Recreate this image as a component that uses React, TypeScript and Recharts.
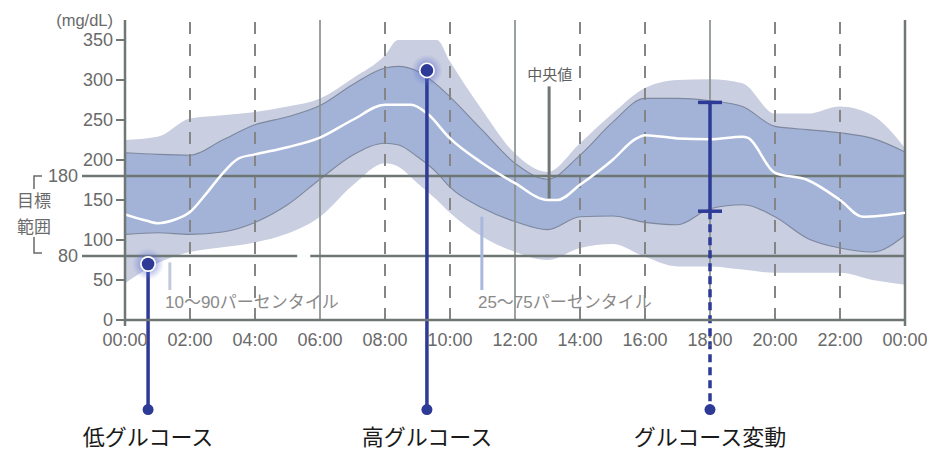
import React from 'react';
import { ComposedChart, Area, Line, XAxis, YAxis, ReferenceLine, ReferenceDot } from 'recharts';

// ---------- data ----------
const BAND_HOURS = [0, 1, 2, 3, 4, 5, 6, 7, 8, 8.4, 9, 9.6, 10, 11, 12, 13, 14, 15, 16, 17, 18, 19, 20, 21, 22, 23, 24];
const P10 = [46, 71, 85, 91, 97, 108, 129, 168, 196, 192, 171, 150, 134, 104, 85, 75, 90, 95, 79, 67, 67, 63, 59, 59, 59, 50, 44];
const P25 = [107, 109, 107, 110, 122, 144, 176, 206, 221, 219, 204, 184, 166, 140, 123, 113, 129, 130, 122, 119, 139, 144, 129, 102, 90, 85, 106];
const P75 = [209, 207, 206, 225, 244, 254, 268, 294, 315, 317, 311, 294, 279, 237, 196, 176, 206, 247, 277, 277, 274, 267, 242, 238, 234, 227, 210];
const P90 = [225, 229, 252, 256, 260, 267, 277, 302, 331, 350, 350, 350, 323, 262, 208, 185, 221, 258, 290, 300, 301, 296, 258, 258, 267, 256, 215];

const MED_HOURS = [0, 0.67, 1, 1.5, 2, 2.5, 3, 3.5, 4, 5, 6, 7, 8, 8.8, 9.3, 10, 11, 12, 13, 13.3, 14, 15, 15.7, 16, 17, 18, 19, 19.15, 20, 21, 22, 22.7, 24];
const MEDIAN = [132, 124, 121, 125, 135, 158, 183, 202, 207, 216, 228, 250, 269, 269, 258, 227, 196, 171, 150, 150, 169, 200, 226, 231, 227, 226, 229, 228, 184, 175, 150, 129, 134];

const Y_TICKS = [0, 50, 80, 100, 150, 180, 200, 250, 300, 350];
const TARGET_LOW = 80;
const TARGET_HIGH = 180;
const X_TICKS = [0, 2, 4, 6, 8, 10, 12, 14, 16, 18, 20, 22, 24];
const DASHED_HOURS = [2, 4, 8, 10, 14, 16, 20, 22];
const SOLID_HOURS = [6, 12, 18];

const UNIT_LABEL = '(mg/dL)';
const TARGET_LABEL_TOP = '目標';
const TARGET_LABEL_BOTTOM = '範囲';

// annotations (data coordinates)
const LOW_EVENT = { h: 0.71, v: 70, label: '低グルコース' };
const HIGH_EVENT = { h: 9.29, v: 312, label: '高グルコース' };
const VARIATION = { h: 18, low: 136, high: 272, label: 'グルコース変動', capHalf: 0.37 };
const CALLOUT_DOT_V = -112;
const CALLOUT_LABEL_V = -146;
const P1090_NOTE = { h: 1.23, v: 22.5, text: '10～90パーセンタイル', pointerH: 1.38, pointerTop: 72, pointerBottom: 37.5 };
const P2575_NOTE = { h: 10.86, v: 22.5, text: '25～75パーセンタイル', pointerH: 10.98, pointerTop: 129, pointerBottom: 37.5 };
const MEDIAN_NOTE = { h: 13.07, v: 306, text: '中央値', pointerH: 13.05, pointerTop: 292, pointerBottom: 152 };
const LOW_LINE_GAP = [5.3, 5.7];

const bandRows = BAND_HOURS.map((h, i) => ({ h, outer: [P10[i], P90[i]], inner: [P25[i], P75[i]] }));
const medRows = MED_HOURS.map((h, i) => ({ h, median: MEDIAN[i] }));

// ---------- styles ----------
const FONT = "'Liberation Sans', 'Noto Sans CJK JP', sans-serif";
const JP = "'Noto Sans CJK JP', sans-serif";
const TICK_TEXT = '#6a6a6a';
const AXIS = '#6e7773';
const GRID_SOLID = '#8a918d';
const GRID_DASH = '#858585';
const OUTER_FILL = '#c9cee0';
const INNER_FILL = '#a3b3d7';
const INNER_EDGE = '#7d889f';
const BLUE = '#2d3a96';

const fmtHour = (h: number) => `${String(h % 24).padStart(2, '0')}:00`;

const YTick = (props: any) => {
  const { x, y, payload } = props;
  const v = payload.value;
  if (v === TARGET_HIGH || v === TARGET_LOW) {
    const top = v === TARGET_HIGH;
    return (
      <g>
        <line x1={x - 43} y1={y} x2={x} y2={y} stroke={AXIS} strokeWidth={2.5} />
        <text x={x - 47} y={y} dy="0.35em" textAnchor="end" fontSize={18} fill={TICK_TEXT} fontFamily={FONT}>{v}</text>
        {top ? (
          <path d={`M${x - 91},${y + 13} L${x - 91},${y} L${x - 83},${y}`} fill="none" stroke={TICK_TEXT} strokeWidth={1.5} />
        ) : (
          <path d={`M${x - 91},${y - 19} L${x - 91},${y - 3} L${x - 83},${y - 3}`} fill="none" stroke={TICK_TEXT} strokeWidth={1.5} />
        )}
        <text x={x - 91} y={top ? y + 25 : y - 29} dy="0.35em" textAnchor="middle" fontSize={17} fill={TICK_TEXT} fontFamily={JP}>
          {top ? TARGET_LABEL_TOP : TARGET_LABEL_BOTTOM}
        </text>
      </g>
    );
  }
  return (
    <g>
      <line x1={x - 9} y1={y} x2={x} y2={y} stroke={AXIS} strokeWidth={2} />
      <text x={x - 12} y={y} dy="0.35em" textAnchor="end" fontSize={18} fill={TICK_TEXT} fontFamily={FONT}>{v}</text>
      {v === 350 && (
        <text x={x - 12} y={y - 20} dy="0.35em" textAnchor="end" fontSize={16.5} fill={TICK_TEXT} fontFamily={FONT}>{UNIT_LABEL}</text>
      )}
    </g>
  );
};

const XTick = (props: any) => {
  const { x, y, payload } = props;
  const h = payload.value;
  return (
    <g>
      {(h === 0 || h === 24) && <line x1={x} y1={y} x2={x} y2={y + 6} stroke={AXIS} strokeWidth={2.5} />}
      <text x={x} y={y + 20} dy="0.35em" textAnchor="middle" fontSize={18} fill={TICK_TEXT} fontFamily={FONT}>{fmtHour(h)}</text>
    </g>
  );
};

const GlowDot = (props: any) => {
  const { cx, cy } = props;
  const id = `glow-${Math.round(cx)}-${Math.round(cy)}`;
  return (
    <g>
      <defs>
        <radialGradient id={id}>
          <stop offset="30%" stopColor="#4a5cc8" stopOpacity={0.55} />
          <stop offset="100%" stopColor="#6f80d8" stopOpacity={0} />
        </radialGradient>
      </defs>
      <circle cx={cx} cy={cy} r={16} fill={`url(#${id})`} />
      <circle cx={cx} cy={cy} r={8} fill="#ffffff" />
      <circle cx={cx} cy={cy} r={6.3} fill={BLUE} />
    </g>
  );
};

const SmallDot = (props: any) => <circle cx={props.cx} cy={props.cy} r={5.5} fill={BLUE} />;

const makeText = (text: string, opts: { anchor: string; size: number; fill: string; family: string }) => (props: any) => (
  <text x={props.cx} y={props.cy} dy="0.35em" textAnchor={opts.anchor} fontSize={opts.size} fill={opts.fill} fontFamily={opts.family}>
    {text}
  </text>
);

export default function App() {
  return (
    <div style={{ position: 'absolute', left: 0, top: 0, background: '#fff' }}>
      <ComposedChart width={927} height={451} data={bandRows} margin={{ top: 20, right: 22, bottom: 101, left: 65 }}>
        <XAxis
          dataKey="h"
          type="number"
          domain={[0, 24]}
          ticks={X_TICKS}
          interval={0}
          tick={<XTick />}
          tickLine={false}
          tickSize={0}
          tickMargin={0}
          height={30}
          axisLine={{ stroke: AXIS, strokeWidth: 2.5 }}
          allowDataOverflow
        />
        <YAxis
          type="number"
          domain={[0, 375]}
          ticks={Y_TICKS}
          interval={0}
          tick={<YTick />}
          tickLine={false}
          tickSize={0}
          tickMargin={0}
          width={60}
          axisLine={{ stroke: AXIS, strokeWidth: 2.5 }}
          allowDataOverflow
        />
        <Area dataKey="outer" type="monotoneX" fill={OUTER_FILL} fillOpacity={1} stroke="none" isAnimationActive={false} />
        <Area dataKey="inner" type="monotoneX" fill={INNER_FILL} fillOpacity={1} stroke={INNER_EDGE} strokeWidth={1.1} isAnimationActive={false} />

        {DASHED_HOURS.map((h) => (
          <ReferenceLine key={`d${h}`} x={h} stroke={GRID_DASH} strokeWidth={2} strokeDasharray="12 10" />
        ))}
        {SOLID_HOURS.map((h) => (
          <ReferenceLine key={`s${h}`} x={h} stroke={GRID_SOLID} strokeWidth={1.7} />
        ))}
        <ReferenceLine x={24} stroke={AXIS} strokeWidth={2.5} />
        <ReferenceLine y={TARGET_HIGH} stroke={AXIS} strokeWidth={2.5} />
        <ReferenceLine segment={[{ x: 0, y: TARGET_LOW }, { x: LOW_LINE_GAP[0], y: TARGET_LOW }]} stroke={AXIS} strokeWidth={2.5} ifOverflow="visible" />
        <ReferenceLine segment={[{ x: LOW_LINE_GAP[1], y: TARGET_LOW }, { x: 24, y: TARGET_LOW }]} stroke={AXIS} strokeWidth={2.5} ifOverflow="visible" />

        <Line data={medRows} dataKey="median" type="monotoneX" stroke="#ffffff" strokeWidth={2.5} dot={false} isAnimationActive={false} />

        {/* percentile / median pointers */}
        <ReferenceLine segment={[{ x: P1090_NOTE.pointerH, y: P1090_NOTE.pointerTop }, { x: P1090_NOTE.pointerH, y: P1090_NOTE.pointerBottom }]} stroke="#c2c9db" strokeWidth={3} ifOverflow="visible" />
        <ReferenceLine segment={[{ x: P2575_NOTE.pointerH, y: P2575_NOTE.pointerTop }, { x: P2575_NOTE.pointerH, y: P2575_NOTE.pointerBottom }]} stroke="#a9b8dc" strokeWidth={3} ifOverflow="visible" />
        <ReferenceLine segment={[{ x: MEDIAN_NOTE.pointerH, y: MEDIAN_NOTE.pointerTop }, { x: MEDIAN_NOTE.pointerH, y: MEDIAN_NOTE.pointerBottom }]} stroke={AXIS} strokeWidth={3} ifOverflow="visible" />
        <ReferenceDot x={P1090_NOTE.h} y={P1090_NOTE.v} ifOverflow="visible" shape={makeText(P1090_NOTE.text, { anchor: 'start', size: 17, fill: '#8a8a8a', family: FONT })} />
        <ReferenceDot x={P2575_NOTE.h} y={P2575_NOTE.v} ifOverflow="visible" shape={makeText(P2575_NOTE.text, { anchor: 'start', size: 17, fill: '#8a8a8a', family: FONT })} />
        <ReferenceDot x={MEDIAN_NOTE.h} y={MEDIAN_NOTE.v} ifOverflow="visible" shape={makeText(MEDIAN_NOTE.text, { anchor: 'middle', size: 15, fill: '#5e5e5e', family: JP })} />

        {/* low / high glucose call-outs */}
        <ReferenceLine segment={[{ x: LOW_EVENT.h, y: LOW_EVENT.v }, { x: LOW_EVENT.h, y: CALLOUT_DOT_V }]} stroke={BLUE} strokeWidth={3.5} ifOverflow="visible" />
        <ReferenceLine segment={[{ x: HIGH_EVENT.h, y: HIGH_EVENT.v }, { x: HIGH_EVENT.h, y: CALLOUT_DOT_V }]} stroke={BLUE} strokeWidth={3.5} ifOverflow="visible" />
        {/* variability bar */}
        <ReferenceLine segment={[{ x: VARIATION.h, y: VARIATION.low }, { x: VARIATION.h, y: VARIATION.high }]} stroke={BLUE} strokeWidth={3.5} ifOverflow="visible" />
        <ReferenceLine segment={[{ x: VARIATION.h - VARIATION.capHalf, y: VARIATION.high }, { x: VARIATION.h + VARIATION.capHalf, y: VARIATION.high }]} stroke={BLUE} strokeWidth={3.5} ifOverflow="visible" />
        <ReferenceLine segment={[{ x: VARIATION.h - VARIATION.capHalf, y: VARIATION.low }, { x: VARIATION.h + VARIATION.capHalf, y: VARIATION.low }]} stroke={BLUE} strokeWidth={3.5} ifOverflow="visible" />
        <ReferenceLine segment={[{ x: VARIATION.h, y: VARIATION.low }, { x: VARIATION.h, y: CALLOUT_DOT_V }]} stroke={BLUE} strokeWidth={3.5} strokeDasharray="8 5" ifOverflow="visible" />

        <ReferenceDot x={LOW_EVENT.h} y={LOW_EVENT.v} ifOverflow="visible" shape={<GlowDot />} />
        <ReferenceDot x={HIGH_EVENT.h} y={HIGH_EVENT.v} ifOverflow="visible" shape={<GlowDot />} />
        {[LOW_EVENT.h, HIGH_EVENT.h, VARIATION.h].map((h) => (
          <ReferenceDot key={`cd${h}`} x={h} y={CALLOUT_DOT_V} ifOverflow="visible" shape={<SmallDot />} />
        ))}
        {[LOW_EVENT, HIGH_EVENT, VARIATION].map((e) => (
          <ReferenceDot key={`cl${e.h}`} x={e.h} y={CALLOUT_LABEL_V} ifOverflow="visible" shape={makeText(e.label, { anchor: 'middle', size: 22, fill: '#1a1a1a', family: JP })} />
        ))}
      </ComposedChart>
    </div>
  );
}
